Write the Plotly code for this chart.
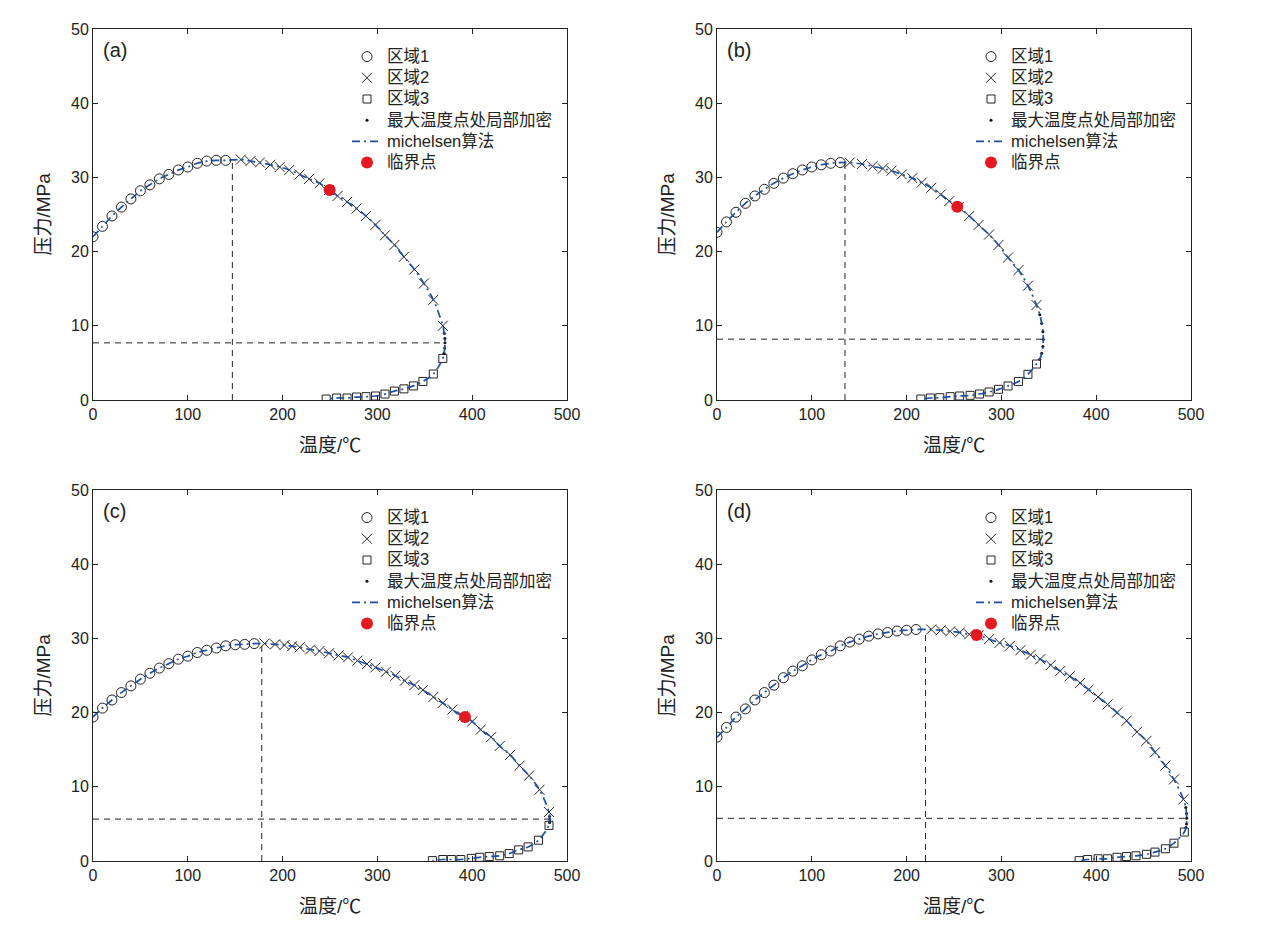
import plotly.graph_objects as go

# panel (a)
A_T1 = [0, 10, 20, 30, 40, 50, 60, 70, 80, 90, 100, 110, 120, 130, 140]
A_P1 = [22.0, 23.4, 24.8, 26.0, 27.1, 28.2, 29.0, 29.8, 30.4, 31.0, 31.4, 31.9, 32.2, 32.3, 32.3]
A_T2 = [156, 166, 176, 187, 197, 207, 218, 228, 239, 249, 258, 268, 278, 288, 298, 308, 318, 328, 339, 349, 359, 369]
A_P2 = [32.4, 32.2, 32.0, 31.7, 31.4, 31.0, 30.4, 29.8, 29.2, 28.3, 27.5, 26.7, 25.8, 24.8, 23.6, 22.2, 20.9, 19.3, 17.6, 15.7, 13.5, 10.0]
A_T3 = [246, 257, 268, 278, 288, 298, 308, 318, 328, 338, 348, 359, 369]
A_P3 = [0.13, 0.27, 0.27, 0.4, 0.45, 0.54, 0.8, 1.2, 1.5, 1.9, 2.5, 3.5, 5.6]
A_TD = [370.5, 371.2, 371.3, 371.0, 370.3]
A_PD = [9.0, 8.3, 7.7, 7.0, 6.3]
A_CRIT = (249.6, 28.3)
A_BAR = (147, 32.4)
A_THERM = (371.3, 7.7)

# panel (b)
B_T1 = [0, 10, 20, 30, 40, 50, 60, 70, 80, 90, 100, 110, 120, 130]
B_P1 = [22.6, 24.0, 25.3, 26.5, 27.5, 28.4, 29.2, 29.9, 30.5, 31.0, 31.4, 31.7, 31.9, 32.0]
B_T2 = [140, 153, 164, 175, 184, 195, 206, 216, 226, 236, 245, 255, 266, 276, 287, 297, 307, 318, 328, 337]
B_P2 = [32.0, 31.8, 31.5, 31.2, 30.9, 30.4, 29.9, 29.3, 28.6, 27.7, 26.8, 26.0, 24.8, 23.6, 22.3, 20.9, 19.2, 17.5, 15.4, 12.8]
B_T3 = [215, 225, 235, 246, 256, 267, 277, 287, 297, 307, 318, 328, 337]
B_P3 = [0.13, 0.27, 0.31, 0.45, 0.54, 0.63, 0.81, 1.08, 1.44, 1.89, 2.5, 3.46, 4.85]
B_TD = [340.5, 342.5, 343.8, 344.2, 343.8, 342.5, 340.5]
B_PD = [11.5, 10.3, 9.2, 8.2, 7.2, 6.3, 5.5]
B_CRIT = (253.5, 26.05)
B_BAR = (135, 32.0)
B_THERM = (344.2, 8.2)

# panel (c)
C_T1 = [0, 10, 20, 30, 40, 50, 60, 70, 80, 90, 100, 110, 120, 130, 140, 150, 160, 170]
C_P1 = [19.4, 20.6, 21.7, 22.7, 23.6, 24.5, 25.3, 26.0, 26.6, 27.2, 27.6, 28.1, 28.4, 28.7, 29.0, 29.15, 29.2, 29.3]
C_T2 = [181, 192, 202, 210, 218, 229, 239, 249, 259, 269, 279, 289, 298, 309, 319, 329, 339, 348,
        359, 369, 379, 390, 400, 409, 420, 429, 440, 450, 460, 471, 481]
C_P2 = [29.3, 29.2, 29.1, 28.95, 28.8, 28.5, 28.3, 28.0, 27.7, 27.45, 27.0, 26.55, 26.1, 25.5, 24.97, 24.3, 23.7, 23.05,
        22.1, 21.3, 20.4, 19.5, 18.8, 17.7, 16.7, 15.5, 14.3, 12.85, 11.5, 9.6, 6.6]
C_T3 = [358, 369, 378, 388, 399, 408, 418, 429, 439, 449, 459, 470, 481]
C_P3 = [0.05, 0.2, 0.2, 0.2, 0.35, 0.5, 0.6, 0.7, 1.0, 1.5, 1.9, 2.8, 4.8]
C_TD = [481.6, 481.8, 481.6]
C_PD = [6.0, 5.6, 5.2]
C_CRIT = (392.4, 19.4)
C_BAR = (178, 29.3)
C_THERM = (481.8, 5.65)

# panel (d)
D_T1 = [0, 10, 20, 30, 40, 50, 60, 70, 80, 90, 100, 110, 120, 130, 140, 150, 160, 170, 180, 190, 200, 210]
D_P1 = [16.7, 18.0, 19.4, 20.5, 21.7, 22.7, 23.7, 24.7, 25.6, 26.3, 27.1, 27.8, 28.3, 29.0, 29.5, 29.9, 30.3, 30.6, 30.8, 31.0, 31.1, 31.2]
D_T2 = [226, 236, 246, 256, 266, 276, 287, 298, 309, 320, 331, 341, 352, 362, 372, 383, 392, 402, 412, 422, 432, 443, 453, 462, 473, 482, 492]
D_P2 = [31.2, 31.1, 30.95, 30.8, 30.55, 30.4, 29.9, 29.4, 29.0, 28.4, 27.8, 27.2, 26.4, 25.6, 24.9, 24.0, 23.1, 22.1, 21.1, 20.0, 18.9, 17.4, 16.2, 14.65, 12.85, 11.0, 8.3]
D_T3 = [382, 391, 402, 412, 422, 432, 442, 453, 462, 473, 482, 493]
D_P3 = [0.05, 0.2, 0.3, 0.3, 0.5, 0.6, 0.7, 0.9, 1.2, 1.65, 2.4, 3.9]
D_TD = [494.5, 495.3, 495.5, 495.3, 494.6]
D_PD = [7.2, 6.4, 5.75, 5.0, 4.5]
D_CRIT = (273.9, 30.46)
D_BAR = (220, 31.2)
D_THERM = (495.5, 5.75)

LABELS = ["(a)", "(b)", "(c)", "(d)"]
NAMES = ["区域1", "区域2", "区域3", "最大温度点处局部加密", "michelsen算法", "临界点"]

# figure is a little smaller than the window so the page body margin (8px) fits
OFF = 8
W, H = 1250, 912
FONT = "Liberation Sans, Arial, Noto Sans CJK SC"
BLUE = "#1f4f9e"

# window-pixel boxes of the four plot areas: left, right, top, bottom
boxes = [(93, 567, 29, 400), (717, 1191, 29, 400), (93, 567, 490, 861), (717, 1191, 490, 861)]


def px(v):
    return (v - OFF) / W


def py(v):
    return 1 - (v - OFF) / H


panels = [
    (A_T1, A_P1, A_T2, A_P2, A_T3, A_P3, A_TD, A_PD, A_CRIT, A_BAR, A_THERM),
    (B_T1, B_P1, B_T2, B_P2, B_T3, B_P3, B_TD, B_PD, B_CRIT, B_BAR, B_THERM),
    (C_T1, C_P1, C_T2, C_P2, C_T3, C_P3, C_TD, C_PD, C_CRIT, C_BAR, C_THERM),
    (D_T1, D_P1, D_T2, D_P2, D_T3, D_P3, D_TD, D_PD, D_CRIT, D_BAR, D_THERM),
]

fig = go.Figure()
layout = {}
annotations = []

for n, (t1, p1, t2, p2, t3, p3, td, pd, crit, bar, therm) in enumerate(panels):
    sfx = "" if n == 0 else str(n + 1)
    xa, ya = "x" + sfx, "y" + sfx
    lg = "legend" + sfx
    l, r, t, b = boxes[n]

    # dashed guide lines
    fig.add_trace(go.Scatter(x=[bar[0], bar[0]], y=[0, bar[1]], mode="lines",
                             line=dict(color="#222", width=1, dash="6px,5px"),
                             xaxis=xa, yaxis=ya, showlegend=False, hoverinfo="skip"))
    fig.add_trace(go.Scatter(x=[0, therm[0]], y=[therm[1], therm[1]], mode="lines",
                             line=dict(color="#222", width=1, dash="6px,5px"),
                             xaxis=xa, yaxis=ya, showlegend=False, hoverinfo="skip"))

    # michelsen envelope through all the points
    lx = t1 + t2 + td + t3[::-1]
    ly = p1 + p2 + pd + p3[::-1]

    nm = ['<span style="font-size:16.5px">%s</span>' % s for s in NAMES]
    mk = dict(color="#222", line=dict(color="#222", width=1))
    fig.add_trace(go.Scatter(x=t1, y=p1, mode="markers", name=nm[0], legend=lg,
                             marker=dict(symbol="circle-open", size=10, **mk), xaxis=xa, yaxis=ya))
    fig.add_trace(go.Scatter(x=t2, y=p2, mode="markers", name=nm[1], legend=lg,
                             marker=dict(symbol="x-thin-open", size=10, **mk), xaxis=xa, yaxis=ya))
    fig.add_trace(go.Scatter(x=t3, y=p3, mode="markers", name=nm[2], legend=lg,
                             marker=dict(symbol="square-open", size=8, **mk), xaxis=xa, yaxis=ya))
    fig.add_trace(go.Scatter(x=td, y=pd, mode="markers", name=nm[3], legend=lg,
                             marker=dict(symbol="circle", size=3, color="#111"), xaxis=xa, yaxis=ya))
    fig.add_trace(go.Scatter(x=lx, y=ly, mode="lines", name=nm[4], legend=lg,
                             line=dict(color=BLUE, width=1.7, dash="8px,4px,2px,4px", shape="spline"),
                             xaxis=xa, yaxis=ya))
    fig.add_trace(go.Scatter(x=[crit[0]], y=[crit[1]], mode="markers", name=nm[5], legend=lg,
                             marker=dict(symbol="circle", size=12, color="#e3191f"), xaxis=xa, yaxis=ya))

    axis_common = dict(showline=True, linecolor="#222", linewidth=1, mirror="ticks",
                       ticks="inside", ticklen=5, tickcolor="#222", showgrid=False, zeroline=False,
                       automargin=False, tickfont=dict(family=FONT, size=16, color="#222"))
    layout["xaxis" + sfx] = dict(domain=[px(l), px(r)], range=[0, 500], dtick=100,
                                 anchor=ya, **axis_common)
    layout["yaxis" + sfx] = dict(domain=[py(b), py(t)], range=[0, 50], dtick=10,
                                 anchor=xa, **axis_common)
    layout[lg] = dict(x=px(l + 254), y=py(t + 12), xanchor="left", yanchor="top",
                      bgcolor="rgba(0,0,0,0)", font=dict(family=FONT, size=14, color="#222"),
                      itemsizing="trace", tracegroupgap=0)

    annotations.append(dict(text=LABELS[n], xref="paper", yref="paper",
                            x=px(l + 8), y=py(t + 21), xanchor="left", yanchor="middle", showarrow=False,
                            font=dict(family=FONT, size=20, color="#222")))
    annotations.append(dict(text="温度/℃", xref="paper", yref="paper",
                            x=px((l + r) / 2), y=py(b + 45), xanchor="center", yanchor="middle",
                            showarrow=False, font=dict(family=FONT, size=19, color="#222")))
    annotations.append(dict(text="压力/MPa", xref="paper", yref="paper", textangle=-90,
                            x=px(l - 50), y=py((t + b) / 2), xanchor="center", yanchor="middle",
                            showarrow=False, font=dict(family=FONT, size=19, color="#222")))

fig.update_layout(width=W, height=H,
                  margin=dict(l=0, r=0, t=0, b=0, pad=0, autoexpand=False),
                  plot_bgcolor="white", paper_bgcolor="white",
                  annotations=annotations, **layout)

fig.write_html("out.html")
